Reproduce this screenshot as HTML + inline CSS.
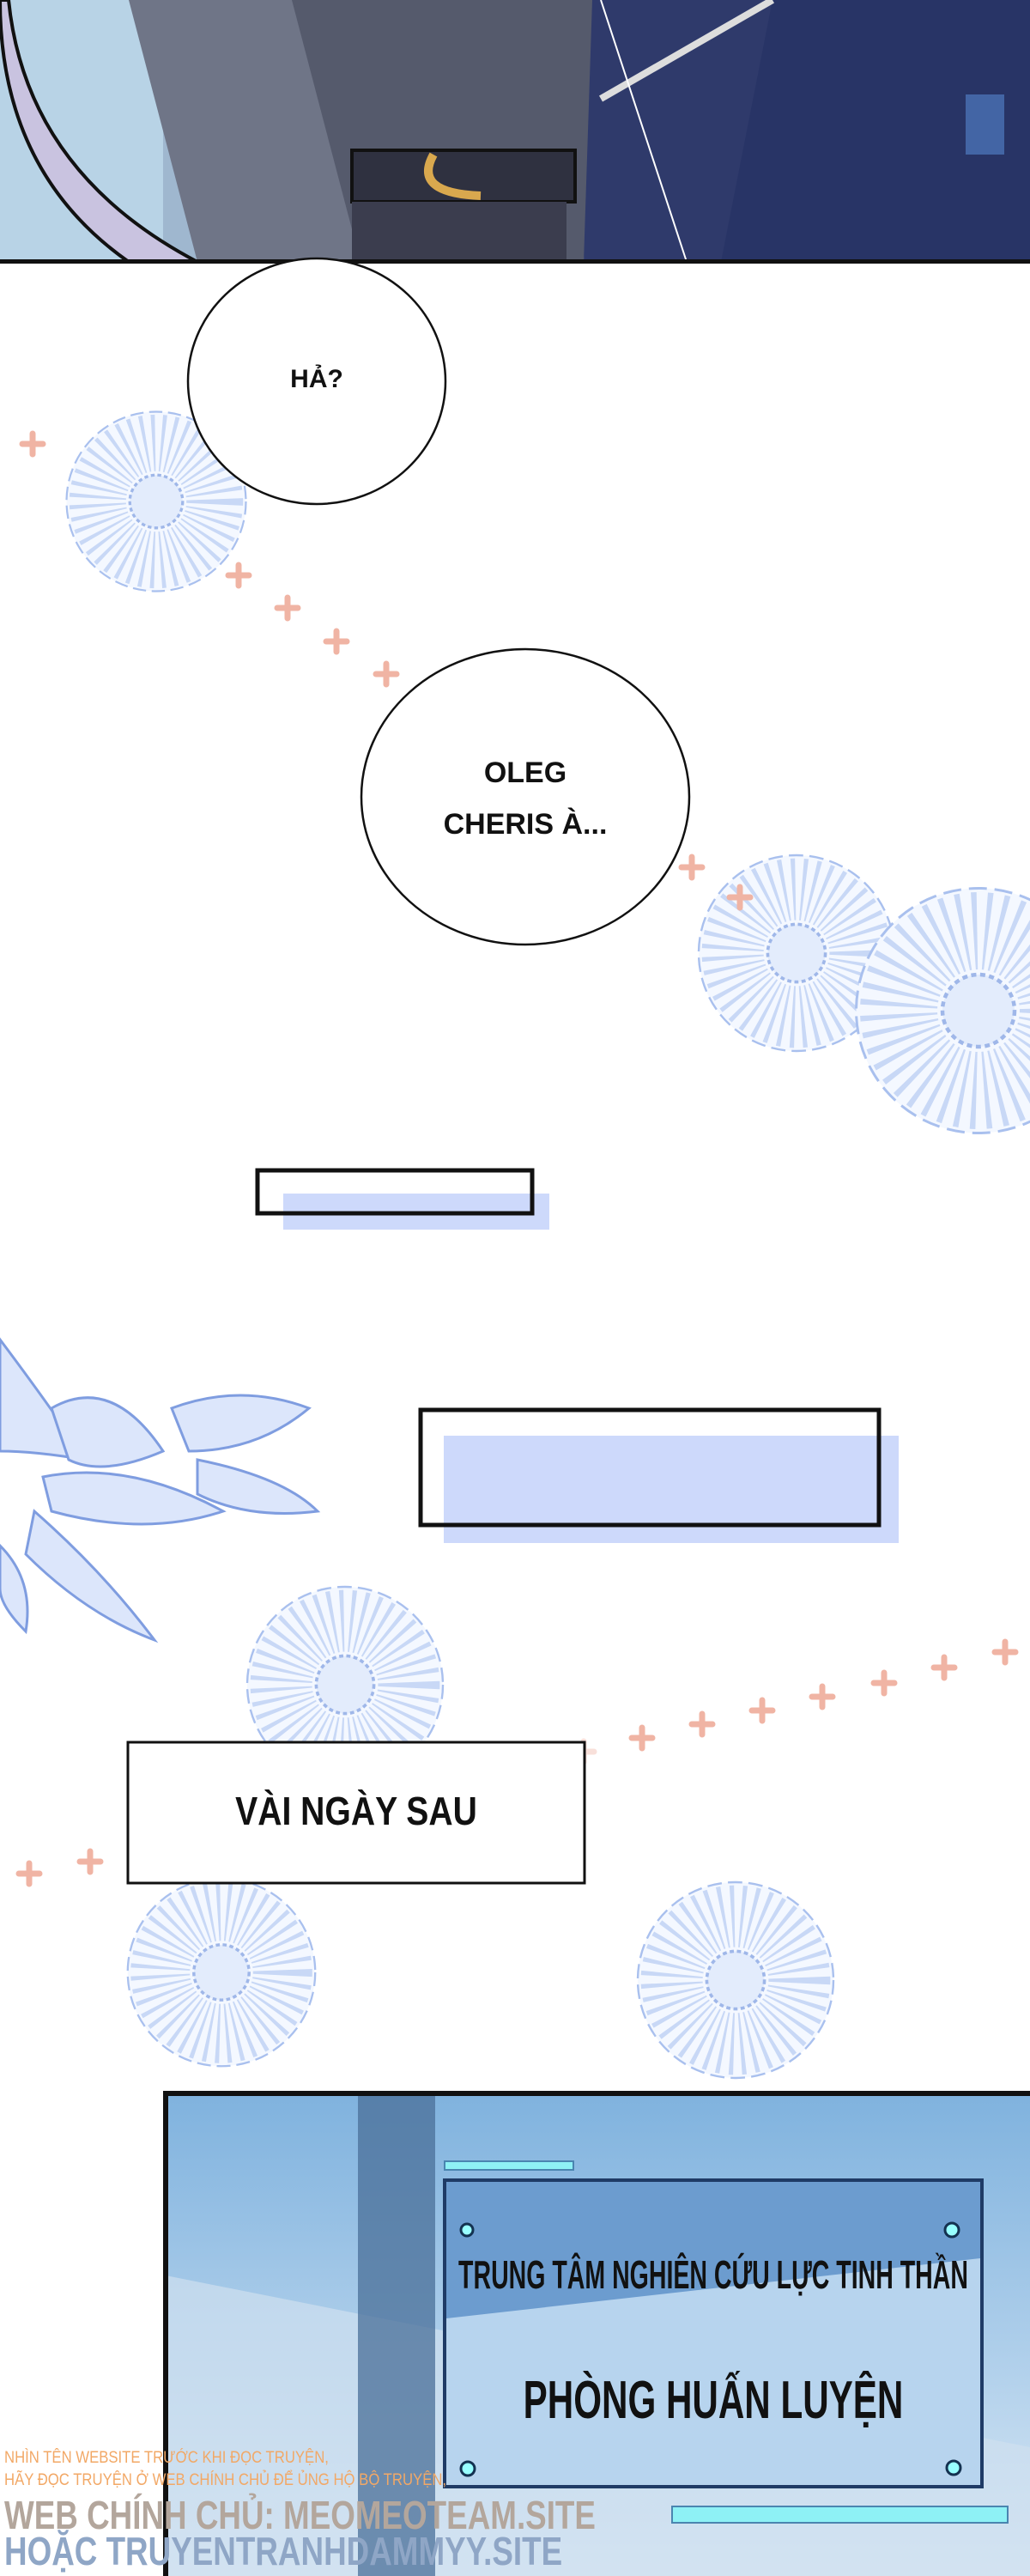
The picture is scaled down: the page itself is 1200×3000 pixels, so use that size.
<!DOCTYPE html>
<html><head><meta charset="utf-8"><style>
body{margin:0;width:1200px;height:3000px;position:relative;overflow:hidden;background:#fff;font-family:"Liberation Sans",sans-serif}
.a{position:absolute}
.t{font-weight:bold;color:#111;text-align:center}
.c{display:flex;justify-content:center;white-space:nowrap}
</style></head><body>
<svg class="a" style="left:0;top:0" width="1200" height="310">
<rect width="1200" height="305" fill="#9fb7cf"/>
<rect x="0" y="0" width="190" height="305" fill="#b8d3e6"/>
<path d="M10 0 Q30 200 230 305 L150 305 Q0 200 0 0Z" fill="#c9c3e0" stroke="#111" stroke-width="4"/>
<path d="M150 0 L350 0 L420 305 L230 305 Z" fill="#6f7587"/>
<path d="M340 0 L700 0 L680 305 L420 305 Z" fill="#555a6c"/>
<rect x="410" y="175" width="260" height="60" fill="#2f3140" stroke="#111" stroke-width="4"/>
<path d="M505 180 Q480 225 560 228" stroke="#d9a84e" stroke-width="10" fill="none"/>
<rect x="410" y="235" width="250" height="70" fill="#3b3d4e"/>
<path d="M690 0 L1200 0 L1200 305 L680 305 Z" fill="#2f3a6b"/>
<path d="M900 0 L1200 0 L1200 305 L840 305 Z" fill="#283466"/>
<line x1="700" y1="115" x2="900" y2="0" stroke="#ddd" stroke-width="8"/>
<line x1="700" y1="0" x2="800" y2="305" stroke="#fff" stroke-width="2"/>
<rect x="1125" y="110" width="45" height="70" fill="#4f7bc0" opacity=".7"/>
<rect x="0" y="302" width="1200" height="5" fill="#111"/>
</svg>
<svg class="a" style="left:0;top:0" width="1200" height="3000">
<defs>
<g id="fl"><circle r="95" fill="#f4f8ff" stroke="#a9c0ee" stroke-width="2" stroke-dasharray="14 6"/><circle r="62" fill="none" stroke="#c8d8f6" stroke-width="60" stroke-dasharray="3 6"/><circle r="28" fill="#e3ecfc" stroke="#9fb7e9" stroke-width="3" stroke-dasharray="4 3"/></g>
<path id="cr" d="M-12 0H12M0 -12V12" stroke="#f0b4a4" stroke-width="7" stroke-linecap="round"/>
</defs>
<use href="#fl" transform="translate(182,584) scale(1.1)"/>
<use href="#fl" transform="translate(928,1110) scale(1.2)"/>
<use href="#fl" transform="translate(1140,1177) scale(1.5)"/>
<use href="#fl" transform="translate(402,1962) scale(1.2)"/>
<use href="#fl" transform="translate(258,2297) scale(1.15)"/>
<use href="#fl" transform="translate(857,2306) scale(1.2)"/>
<g fill="#dce6fb" stroke="#7f9de0" stroke-width="3">
<path d="M0 1560 Q60 1640 100 1700 Q40 1690 0 1690Z"/>
<path d="M60 1640 Q130 1600 190 1690 Q120 1720 80 1700Z"/>
<path d="M50 1720 Q150 1700 260 1760 Q170 1790 60 1760Z"/>
<path d="M40 1760 Q120 1830 180 1910 Q100 1880 30 1810Z"/>
<path d="M200 1640 Q280 1610 360 1640 Q300 1690 220 1690Z"/>
<path d="M230 1700 Q330 1720 370 1760 Q290 1770 230 1740Z"/>
<path d="M0 1800 Q40 1840 30 1900 Q0 1870 0 1850Z"/>
</g>
<g>
<use href="#cr" x="38" y="517"/><use href="#cr" x="278" y="670"/><use href="#cr" x="335" y="708"/><use href="#cr" x="392" y="747"/><use href="#cr" x="450" y="785"/><use href="#cr" x="510" y="825" opacity=".4"/><use href="#cr" x="568" y="858" opacity=".4"/><use href="#cr" x="690" y="930" opacity=".4"/><use href="#cr" x="748" y="965" opacity=".4"/><use href="#cr" x="806" y="1010"/><use href="#cr" x="862" y="1045"/>
<use href="#cr" x="34" y="2182"/><use href="#cr" x="105" y="2168"/><use href="#cr" x="180" y="2150" opacity=".4"/><use href="#cr" x="250" y="2134" opacity=".4"/><use href="#cr" x="540" y="2070" opacity=".4"/><use href="#cr" x="610" y="2055" opacity=".4"/><use href="#cr" x="680" y="2040" opacity=".4"/><use href="#cr" x="748" y="2024"/><use href="#cr" x="818" y="2008"/><use href="#cr" x="888" y="1992"/><use href="#cr" x="958" y="1976"/><use href="#cr" x="1030" y="1960"/><use href="#cr" x="1100" y="1942"/><use href="#cr" x="1171" y="1924"/>
</g>
<ellipse cx="369" cy="444" rx="150" ry="143" fill="#fff" stroke="#111" stroke-width="2.5"/>
<ellipse cx="612" cy="928" rx="191" ry="172" fill="#fff" stroke="#111" stroke-width="2.5"/>
<rect x="330" y="1390" width="310" height="42" fill="#cdd9fb"/>
<rect x="300" y="1363" width="320" height="50" fill="none" stroke="#111" stroke-width="5"/>
<rect x="517" y="1672" width="530" height="125" fill="#cdd9fb"/>
<rect x="490" y="1642" width="534" height="134" fill="none" stroke="#111" stroke-width="5"/>
<rect x="149" y="2029" width="532" height="164" fill="#fff" stroke="#111" stroke-width="3"/>
</svg>
<div class="a t" style="left:269px;top:425px;width:200px;font-size:30px">HẢ?</div>
<div class="a t" style="left:432px;top:870px;width:360px;font-size:34px;line-height:60px">OLEG<br>CHERIS À...</div>
<div class="a t" style="left:149px;top:2082px;width:532px;font-size:46px;transform:scaleX(.85)">VÀI NGÀY SAU</div>
<svg class="a" style="left:0;top:2430px" width="1200" height="570">
<defs><linearGradient id="bg" x1="0" y1="0" x2="0" y2="1"><stop offset="0" stop-color="#7fb2de"/><stop offset=".6" stop-color="#b4d2ec"/><stop offset="1" stop-color="#dbe9f5"/></linearGradient></defs>
<rect x="193" y="5" width="1007" height="565" fill="url(#bg)"/>
<path d="M193 220 L1200 420 L1200 570 L193 570Z" fill="#cfe0ef" opacity=".7"/>
<rect x="417" y="5" width="90" height="565" fill="#4a6f98" opacity=".75"/>
<rect x="190" y="5" width="1010" height="6" fill="#111"/><rect x="190" y="5" width="6" height="565" fill="#111"/>
<rect x="518" y="87" width="150" height="10" fill="#8ef1f5" stroke="#4a85b0" stroke-width="2"/>
<rect x="783" y="489" width="391" height="19" fill="#8ef1f5" stroke="#4a85b0" stroke-width="2"/>
<rect x="518" y="109" width="626" height="357" fill="#6c9ccf" stroke="#1f3b66" stroke-width="4"/>
<path d="M520 270 L1142 200 L1142 464 L520 464Z" fill="#b7d4ee"/>
<g fill="#9ff" stroke="#143251" stroke-width="3"><circle cx="544" cy="167" r="7"/><circle cx="1109" cy="167" r="8"/><circle cx="545" cy="445" r="8"/><circle cx="1111" cy="444" r="8"/></g>
</svg>
<div class="a t c" style="left:518px;top:2622px;width:626px;font-size:46px;transform:scaleX(.62)">TRUNG TÂM NGHIÊN CỨU LỰC TINH THẦN</div>
<div class="a t c" style="left:518px;top:2760px;width:626px;font-size:62px;transform:scaleX(.68)">PHÒNG HUẤN LUYỆN</div>
<div class="a" style="left:5px;top:2850px;font-size:19px;line-height:26px;color:#f2a866;transform:scaleX(.88);transform-origin:left;white-space:nowrap">NHÌN TÊN WEBSITE TRƯỚC KHI ĐỌC TRUYỆN,<br>HÃY ĐỌC TRUYỆN Ở WEB CHÍNH CHỦ ĐỂ ỦNG HỘ BỘ TRUYỆN,</div>
<div class="a" style="left:5px;top:2908px;font-size:46px;line-height:42px;font-weight:bold;transform:scaleX(.8);transform-origin:left;white-space:nowrap"><span style="color:#b3a69c">WEB CHÍNH CHỦ: MEOMEOTEAM.SITE</span><br><span style="color:#8fa6c6">HOẶC TRUYENTRANHDAMMYY.SITE</span></div>
</body></html>
